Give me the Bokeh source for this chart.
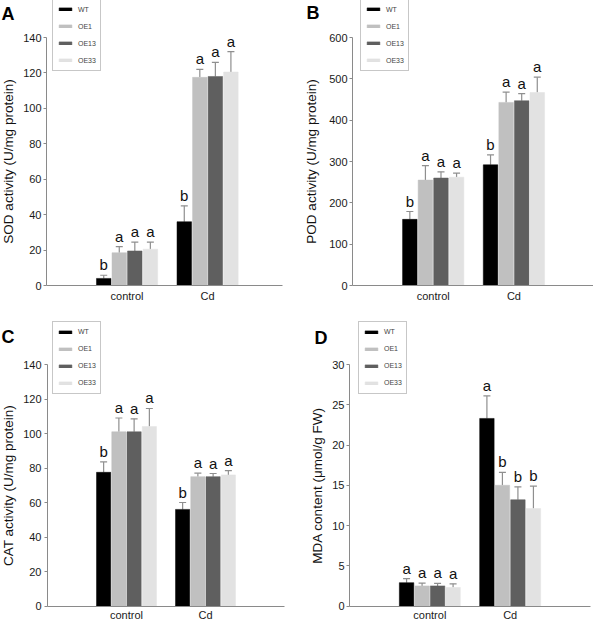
from bokeh.plotting import figure
from bokeh.models import (ColumnDataSource, Whisker, TeeHead, Legend, LegendItem,
                          FixedTicker, Range1d, Label)
from bokeh.layouts import gridplot
from bokeh.core.properties import value
from bokeh.embed import file_html
from bokeh.resources import INLINE

# ---------------- data ----------------
groups = ["control", "Cd"]
lines = ["WT", "OE1", "OE13", "OE33"]

sod_control = [4.0, 18.5, 19.5, 20.5]
sod_control_err = [1.8, 3.5, 5.0, 4.0]
sod_cd = [36.0, 117.5, 118.0, 120.5]
sod_cd_err = [9.0, 4.5, 8.0, 11.5]
sod_letters_control = ["b", "a", "a", "a"]
sod_letters_cd = ["b", "a", "a", "a"]

pod_control = [160.0, 255.0, 260.0, 262.0]
pod_control_err = [19.0, 35.0, 15.0, 10.0]
pod_cd = [292.0, 443.0, 447.0, 467.0]
pod_cd_err = [24.0, 25.0, 17.0, 37.0]
pod_letters_control = ["b", "a", "a", "a"]
pod_letters_cd = ["b", "a", "a", "a"]

cat_control = [77.5, 101.0, 101.0, 104.0]
cat_control_err = [6.0, 8.0, 7.5, 10.5]
cat_cd = [56.0, 75.0, 75.0, 76.0]
cat_cd_err = [4.0, 2.0, 1.8, 2.5]
cat_letters_control = ["b", "a", "a", "a"]
cat_letters_cd = ["b", "a", "a", "a"]

mda_control = [2.9, 2.5, 2.5, 2.3]
mda_control_err = [0.5, 0.35, 0.3, 0.45]
mda_cd = [23.3, 15.0, 13.2, 12.1]
mda_cd_err = [2.8, 1.6, 1.6, 2.8]
mda_letters_control = ["a", "a", "a", "a"]
mda_letters_cd = ["a", "b", "b", "b"]

# ---------------- styles ----------------
colors = ["#000000", "#c0c0c0", "#5f5f5f", "#e2e2e2"]
FONT = "Liberation Sans"
AXIS_COLOR = "#8a8a8a"
ERR_COLOR = "#8f8f8f"
BAR_W = 0.18
PITCH = 0.193
LEG_PAD, LEG_ITEM_H, LEG_SPACING = 4, 12, 5
LEG_H = 2 * LEG_PAD + 4 * LEG_ITEM_H + 3 * LEG_SPACING


def make_panel(letter, ylabel, ymax, ystep, xmax, ctrl, ctrl_err, cd, cd_err,
               let_c, let_d, geom):
    W, H = geom["W"], geom["H"]
    L, R, T, B = geom["L"], geom["R"], geom["T"], geom["B"]
    ppx = (R - L) / xmax
    ppy = (B - T) / ymax
    xr = Range1d(-L / ppx, xmax + (W - R) / ppx)
    yr = Range1d(-(H - B) / ppy, ymax + T / ppy)

    p = figure(width=W, height=H, output_backend="svg",
               toolbar_location=None, min_border=0,
               x_range=xr, y_range=yr)
    p.outline_line_color = None
    p.grid.visible = False
    p.background_fill_color = "white"
    p.border_fill_color = "white"

    items = []
    for i, name in enumerate(lines):
        off = (i - 1.5) * PITCH
        xs = [1 + off, 2 + off]
        tops = [ctrl[i], cd[i]]
        errs = [ctrl_err[i], cd_err[i]]
        src = ColumnDataSource(dict(
            x=xs, top=tops, upper=[t + e for t, e in zip(tops, errs)],
            lab=[let_c[i], let_d[i]]))
        r = p.vbar(x="x", top="top", width=BAR_W, bottom=0, source=src,
                   fill_color=colors[i], line_color=colors[i], line_width=0.5)
        w = Whisker(base="x", upper="upper", lower="top", source=src,
                    dimension="height", line_color=ERR_COLOR, line_width=1.2,
                    upper_head=TeeHead(size=7, line_color=ERR_COLOR, line_width=1.2),
                    lower_head=None)
        p.add_layout(w)
        p.text(x="x", y="upper", text="lab", source=src,
               text_font=value(FONT), text_font_size="15px",
               text_align="center", text_baseline="bottom", y_offset=-2,
               text_color="#111111")
        items.append(LegendItem(label=name, renderers=[r]))

    leg = Legend(items=items,
                 location=(geom["lx"], H - geom["ly"] - LEG_H),
                 glyph_width=16, glyph_height=4, label_height=LEG_ITEM_H,
                 label_width=14, spacing=LEG_SPACING, padding=LEG_PAD, margin=0,
                 label_standoff=5, label_text_font=FONT,
                 label_text_font_size="7px", label_text_color="#444444",
                 border_line_color="#909090", border_line_width=1,
                 background_fill_alpha=1.0)
    p.add_layout(leg)

    # axes (fixed inside the frame so the frame fills the whole panel)
    p.yaxis.ticker = FixedTicker(ticks=list(range(0, ymax + 1, ystep)))
    p.xaxis.ticker = FixedTicker(ticks=[1, 2])
    p.xaxis.major_label_overrides = {1: groups[0], 2: groups[1]}
    p.yaxis.fixed_location = 0
    p.xaxis.fixed_location = 0
    p.yaxis.bounds = (0, ymax)
    p.xaxis.bounds = (0, xmax)
    for ax in (p.xaxis, p.yaxis):
        ax.axis_line_color = AXIS_COLOR
        ax.axis_line_width = 1
        ax.major_tick_line_color = AXIS_COLOR
        ax.minor_tick_line_color = None
        ax.major_label_text_font = FONT
        ax.major_label_text_font_size = "11px"
        ax.major_label_text_color = "#1a1a1a"
    p.xaxis.major_tick_out = 0
    p.xaxis.major_tick_in = 0
    p.xaxis.major_label_standoff = geom["xs"]
    p.yaxis.major_tick_out = 3
    p.yaxis.major_tick_in = 0
    p.yaxis.major_label_standoff = geom["ts"]
    p.yaxis.axis_label = ylabel
    p.yaxis.axis_label_text_font = FONT
    p.yaxis.axis_label_text_font_size = "13.5px"
    p.yaxis.axis_label_text_font_style = "normal"
    p.yaxis.axis_label_text_color = "#111111"
    p.yaxis.axis_label_standoff = geom["ls"]

    p.add_layout(Label(x=geom["tx"], y=H - geom["ty"], x_units="screen",
                       y_units="screen", text=letter, text_font=FONT,
                       text_font_size="18px", text_font_style="bold",
                       text_baseline="alphabetic", text_color="#000000"))
    return p


geom_a = dict(W=296, H=311, L=46, R=282, T=37, B=285, lx=52, ly=0,
              tx=1, ty=13.5, ts=2, ls=4, xs=4)
geom_b = dict(W=297, H=311, L=56, R=296.5, T=37, B=285, lx=64, ly=0,
              tx=10, ty=12.5, ts=2, ls=7, xs=4)
geom_c = dict(W=296, H=312, L=47, R=284, T=53, B=294.5, lx=52, ly=11.7,
              tx=1, ty=25.4, ts=3, ls=4, xs=3)
geom_d = dict(W=297, H=312, L=53, R=294, T=53, B=294.5, lx=62, ly=11.7,
              tx=18, ty=26.4, ts=2, ls=4, xs=3)

pa = make_panel("A", "SOD activity (U/mg protein)", 140, 20, 2.93,
                sod_control, sod_control_err, sod_cd, sod_cd_err,
                sod_letters_control, sod_letters_cd, geom_a)
pb = make_panel("B", "POD activity (U/mg protein)", 600, 100, 2.98,
                pod_control, pod_control_err, pod_cd, pod_cd_err,
                pod_letters_control, pod_letters_cd, geom_b)
pc = make_panel("C", "CAT activity (U/mg protein)", 140, 20, 3.0,
                cat_control, cat_control_err, cat_cd, cat_cd_err,
                cat_letters_control, cat_letters_cd, geom_c)
pd_ = make_panel("D", "MDA content (\u03bcmol/g FW)", 30, 5, 3.0,
                 mda_control, mda_control_err, mda_cd, mda_cd_err,
                 mda_letters_control, mda_letters_cd, geom_d)

grid = gridplot([[pa, pb], [pc, pd_]], toolbar_location=None)

open("out.html", "w").write(file_html(grid, INLINE))
